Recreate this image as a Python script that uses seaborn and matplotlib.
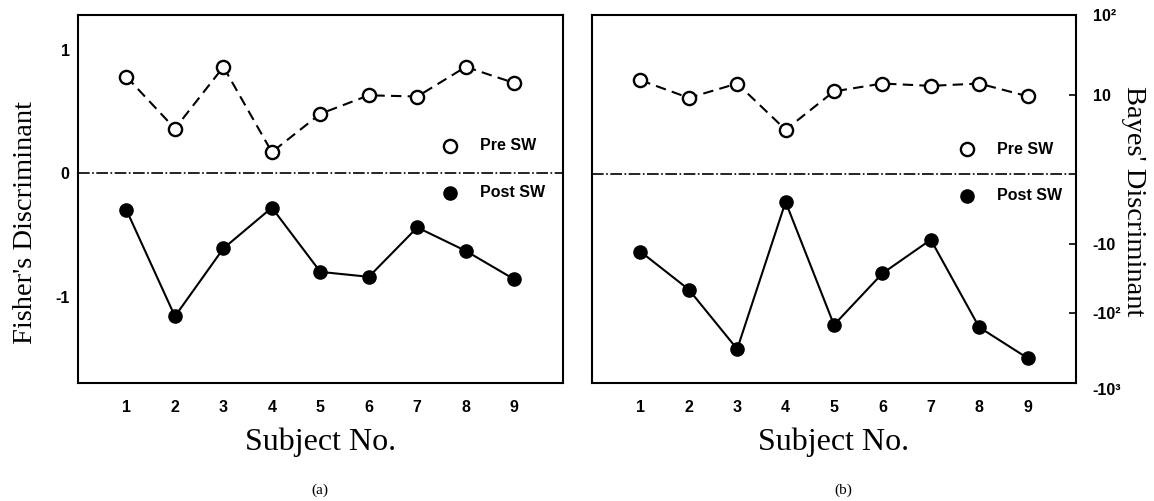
import numpy as np
import pandas as pd
import matplotlib
matplotlib.use("Agg")
import matplotlib.pyplot as plt
import seaborn as sns

subjects = [1, 2, 3, 4, 5, 6, 7, 8, 9]

fisher_pre = [0.78, 0.36, 0.86, 0.17, 0.48, 0.63, 0.62, 0.86, 0.73]
fisher_post = [-0.30, -1.16, -0.61, -0.28, -0.80, -0.84, -0.44, -0.63, -0.86]

bayes_pre = [15.2, 9.6, 13.8, 5.6, 11.0, 13.8, 12.9, 13.8, 9.8]
bayes_post = [-12.9, -45.3, -325, -3.96, -146, -26.6, -9.4, -158, -438]

fisher_ticks = [-1, 0, 1]
fisher_ticklabels = ["-1", "0", "1"]
bayes_ticks = [-1000, -100, -10, 10, 100]
bayes_ticklabels = ["-10³", "-10²", "-10", "10", "10²"]

sns.set_theme(style="white")
plt.rcParams["axes.unicode_minus"] = False
plt.rcParams["font.family"] = ["Liberation Sans", "DejaVu Sans"]
plt.rcParams["text.color"] = "black"
plt.rcParams["axes.labelcolor"] = "black"
plt.rcParams["xtick.color"] = "black"
plt.rcParams["ytick.color"] = "black"

SERIF = ["Liberation Serif", "DejaVu Serif"]

# positive side of the Bayes axis is a bit taller per decade than the negative side
POS = 79 / 69


def fwd(y):
    y = np.asarray(y, dtype=float)
    a = np.abs(y)
    g = np.where(a <= 10, a / 10, 1 + np.log10(np.maximum(a, 10) / 10))
    s = np.where(y >= 0, POS, 1.0)
    return np.sign(y) * g * s


def inv(t):
    t = np.asarray(t, dtype=float)
    s = np.where(t >= 0, POS, 1.0)
    u = np.abs(t) / s
    a = np.where(u <= 1, u * 10, 10 * 10 ** (np.minimum(u, 20) - 1))
    return np.sign(t) * a


fig = plt.figure(figsize=(11.54, 5.01), dpi=100)
ax1 = fig.add_axes([0.0676, 0.2355, 0.420, 0.7345])
ax2 = fig.add_axes([0.513, 0.2355, 0.4194, 0.7345])

df_f = pd.DataFrame({"Subject": subjects, "Pre": fisher_pre, "Post": fisher_post})
df_b = pd.DataFrame({"Subject": subjects, "Pre": bayes_pre, "Post": bayes_post})


def draw(ax, df):
    ax.axhline(0, color="black", lw=1.2, ls=(0, (7, 1.5, 1, 1.5)), zorder=1)
    sns.lineplot(data=df, x="Subject", y="Pre", ax=ax, color="black", lw=1.5,
                 linestyle=(0, (5, 3)), zorder=2)
    sns.lineplot(data=df, x="Subject", y="Post", ax=ax, color="black", lw=1.5,
                 zorder=2)
    sns.scatterplot(data=df, x="Subject", y="Pre", ax=ax, s=90, marker="o",
                    facecolor="white", edgecolor="black", linewidth=1.7,
                    zorder=3, label="Pre SW")
    sns.scatterplot(data=df, x="Subject", y="Post", ax=ax, s=90, marker="o",
                    color="black", edgecolor="black", linewidth=1.0,
                    zorder=3, label="Post SW")
    ax.set_xlim(0, 10)
    ax.set_xticks(subjects)
    ax.set_xticklabels([str(s) for s in subjects], fontsize=11.5, fontweight="bold")
    ax.set_xlabel("Subject No.", fontsize=23, family=SERIF, va="center")
    ax.xaxis.set_label_coords(0.5, -0.162)
    for sp in ax.spines.values():
        sp.set_color("black")
        sp.set_linewidth(1.5)
    ax.tick_params(direction="in", length=5, width=1.2, colors="black", pad=12)
    ax.legend(loc="center left", frameon=False,
              borderpad=0, borderaxespad=0, handlelength=1.0, handletextpad=1.4,
              labelspacing=2.0, prop={"weight": "bold", "size": 11.5})


draw(ax1, df_f)
ax1.set_ylim(-1.70, 1.28)
ax1.set_yticks(fisher_ticks)
ax1.set_yticklabels(fisher_ticklabels, fontsize=11.5, fontweight="bold")
ax1.tick_params(axis="y", pad=6)
ax1.set_ylabel("Fisher's Discriminant", fontsize=20.5, family=SERIF, va="center")
ax1.yaxis.set_label_coords(-0.108, 0.4375)
ax1.get_legend().set_bbox_to_anchor((0.75, 0.5815), transform=ax1.transAxes)

draw(ax2, df_b)
ax2.set_yscale("function", functions=(fwd, inv))
ax2.set_ylim(-1000, 100)
ax2.yaxis.tick_right()
ax2.yaxis.set_label_position("right")
ax2.set_yticks(bayes_ticks)
ax2.set_yticklabels(bayes_ticklabels, fontsize=11.5, fontweight="bold")
ax2.yaxis.set_minor_locator(matplotlib.ticker.NullLocator())
ax2.tick_params(axis="y", pad=12)
ax2.get_yticklabels()[0].set_va("top")
ax2.set_ylabel("Bayes' Discriminant", fontsize=20.5, family=SERIF, rotation=270,
               va="center")
ax2.yaxis.set_label_coords(1.118, 0.495)
ax2.get_legend().set_bbox_to_anchor((0.758, 0.572), transform=ax2.transAxes)

fig.text(0.277, 0.022, "(a)", ha="center", va="center", fontsize=11, family=SERIF)
fig.text(0.731, 0.022, "(b)", ha="center", va="center", fontsize=11, family=SERIF)

fig.savefig("out.png", dpi=100)
